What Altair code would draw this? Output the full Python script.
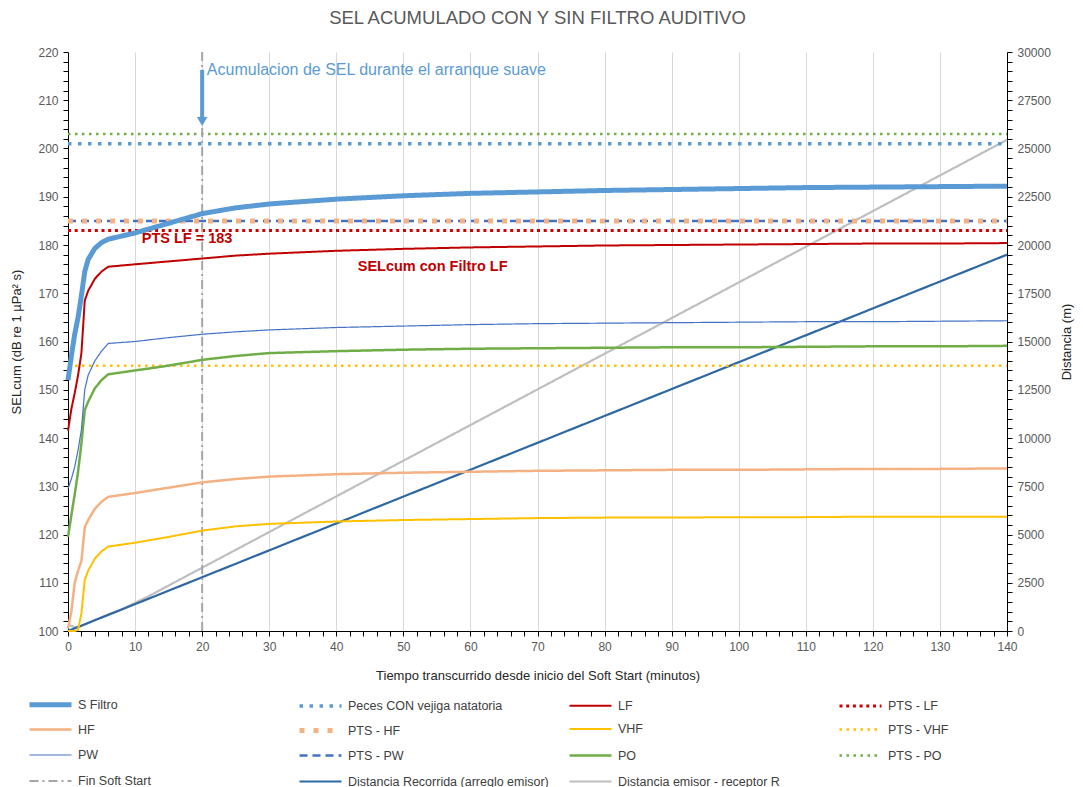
import altair as alt
import pandas as pd

# ---------------- data ----------------
TIME = [0, 0.5, 1, 1.5, 2, 2.5, 3, 4, 5, 6, 10, 15, 20, 25, 30, 40, 50, 60,
        70, 80, 90, 100, 110, 120, 130, 140]
S_FILTRO = [152, 157, 161.5, 165, 169.5, 174.5, 177, 179.3, 180.5, 181.2, 182.5,
            184.5, 186.5, 187.7, 188.5, 189.5, 190.2, 190.7, 191.0, 191.3, 191.5,
            191.7, 191.9, 192.0, 192.1, 192.2]
LF = [141.5, 146, 149.3, 153, 157.6, 168.5, 170.5, 173, 174.5, 175.5, 176, 176.6,
      177.2, 177.8, 178.2, 178.8, 179.2, 179.5, 179.7, 179.9, 180.0, 180.1, 180.2,
      180.3, 180.3, 180.4]
HF = [100.5, 104, 110, 112.5, 114.5, 121.5, 123, 125.3, 126.8, 127.8, 128.6, 129.7,
      130.8, 131.5, 132, 132.5, 132.8, 133, 133.2, 133.3, 133.4, 133.4, 133.5, 133.6,
      133.6, 133.7]
VHF = [100, 100, 100, 100.2, 103.7, 110.6, 112.5, 115, 116.5, 117.5, 118.3, 119.5,
       120.8, 121.7, 122.2, 122.7, 123, 123.2, 123.4, 123.5, 123.5, 123.6, 123.6,
       123.7, 123.7, 123.7]
PW = [129.5, 131.5, 134, 137.5, 141.7, 150, 153, 156, 158, 159.6, 160, 160.8, 161.5,
      162, 162.4, 162.9, 163.2, 163.5, 163.7, 163.8, 163.9, 164, 164.1, 164.1, 164.2,
      164.3]
PO = [119.5, 124, 128.3, 133, 138.9, 145.8, 147.5, 150.3, 152, 153.2, 154, 155, 156.2,
      157, 157.6, 158, 158.3, 158.5, 158.6, 158.7, 158.8, 158.8, 158.9, 159, 159, 159.1]

PECES_CON_VEJIGA = 201
PTS_LF = 183
PTS_HF = 185
PTS_VHF = 155
PTS_PW = 185
PTS_PO = 203
FIN_SOFT_START = 20

DIST_T = [0, 140]
DIST_RECORRIDA = [0, 19500]
DIST_R_T = [0, 1, 2, 4, 6, 8, 12, 20, 140]
DIST_R = [330, 200, 250, 560, 850, 1120, 1800, 3280, 25450]

NAMES = ["S Filtro", "Peces CON vejiga natatoria", "LF", "PTS - LF", "HF", "PTS - HF",
         "VHF", "PTS - VHF", "PW", "PTS - PW", "PO", "PTS - PO", "Fin Soft Start",
         "Distancia Recorrida (arreglo emisor)", "Distancia emisor - receptor R"]
COLORS = ["#5B9BD5", "#5B9BD5", "#C00000", "#D00000", "#F4B183", "#F4B183",
          "#FFC000", "#FFC000", "#4472C4", "#4472C4", "#70AD47", "#70AD47",
          "#A6A6A6", "#2E68A3", "#BFBFBF"]
DASHES = [[1, 0], [3.5, 6.5], [1, 0], [3, 3.7], [1, 0], [5, 9], [1, 0], [2.5, 4.5],
          [1, 0], [8, 5], [1, 0], [2.5, 4.5], [9, 4, 2, 4], [1, 0], [1, 0]]
WIDTHS = [5, 3.5, 2, 3, 2.5, 5, 2, 2.5, 1.2, 2.5, 2.5, 2.5, 2, 2.2, 2.2]

ANN_BLUE = "Acumulacion de SEL durante el arranque suave"
ANN_PTS = "PTS LF = 183"
ANN_LF = "SELcum con Filtro LF"

# ---------------- tables ----------------
rows = []
def add(name, ts, vs):
    k = NAMES.index(name)
    for i, (t, v) in enumerate(zip(ts, vs)):
        rows.append({"t": t, "v": v, "k": k, "serie": name, "o": i})

add("Peces CON vejiga natatoria", [0, 140], [PECES_CON_VEJIGA] * 2)
add("PTS - PO", [0, 140], [PTS_PO] * 2)
add("PTS - LF", [0, 140], [PTS_LF] * 2)
add("PTS - PW", [0, 140], [PTS_PW] * 2)
add("PTS - HF", [0, 140], [PTS_HF] * 2)
add("PTS - VHF", [0, 140], [PTS_VHF] * 2)
add("Fin Soft Start", [FIN_SOFT_START] * 2, [100, 220])
add("VHF", TIME, VHF)
add("HF", TIME, HF)
add("PO", TIME, PO)
add("PW", TIME, PW)
add("LF", TIME, LF)
add("S Filtro", TIME, S_FILTRO)
sel_df = pd.DataFrame(rows)

rows = []
add("Distancia emisor - receptor R", DIST_R_T, DIST_R)
add("Distancia Recorrida (arreglo emisor)", DIST_T, DIST_RECORRIDA)
dist_df = pd.DataFrame(rows)

THR = [i + 0.5 for i in range(len(NAMES) - 1)]
names_js = "[" + ",".join("'" + n + "'" for n in NAMES) + "]"
legend = alt.Legend(
    title=None, orient="none", legendX=-27, legendY=643, columns=4,
    direction="horizontal", columnPadding=10, rowPadding=5, gridAlign="all",
    symbolType="M-3,0H3", symbolSize=196, labelOffset=18, labelFontSize=12.5,
    labelColor="#404040", labelLimit=400, padding=0,
    labelExpr=names_js + "[isFinite(datum.value) ? round(datum.value + 0.5) : 0]",
)

def enc_style():
    return dict(
        color=alt.Color("k:Q", scale=alt.Scale(type="threshold", domain=THR, range=COLORS), legend=legend),
        strokeDash=alt.StrokeDash("k:Q", scale=alt.Scale(type="threshold", domain=THR, range=DASHES), legend=legend),
        strokeWidth=alt.StrokeWidth("k:Q", scale=alt.Scale(type="threshold", domain=THR, range=WIDTHS), legend=legend),
        detail="serie:N",
        order="o:Q",
    )

cond10 = {"condition": {"test": "datum.value % 10 === 0", "value": 1}, "value": 0}

x_enc = alt.X("t:Q", scale=alt.Scale(domain=[0, 140], nice=False),
              axis=alt.Axis(values=list(range(0, 141, 2)), tickCount=500, format="d",
                            labelExpr="datum.value % 10 === 0 ? datum.label : ''",
                            title="Tiempo transcurrido desde inicio del Soft Start (minutos)",
                            gridOpacity=cond10, labelOverlap=False, labelFlush=False,
                            titlePadding=17))

y_sel = alt.Y("v:Q", scale=alt.Scale(domain=[100, 220], nice=False),
              axis=alt.Axis(values=list(range(100, 221, 2)), tickCount=500, format="d",
                            labelExpr="datum.value % 10 === 0 ? datum.label : ''",
                            title="SELcum (dB re 1 µPa² s)",
                            gridOpacity=cond10, labelOverlap=False, labelFlush=False,
                            titlePadding=14))

sel_lines = alt.Chart(sel_df).mark_line(strokeCap="butt").encode(
    x=x_enc, y=y_sel, **enc_style()
)

arrow_df = pd.DataFrame({"t": [FIN_SOFT_START], "y1": [216.3], "y2": [206.5], "yh": [205.6]})
arrow_shaft = alt.Chart(arrow_df).mark_rule(color="#5B9BD5", strokeWidth=4).encode(
    x="t:Q", y="y1:Q", y2="y2:Q")
arrow_head = alt.Chart(arrow_df).mark_point(shape="triangle-down", filled=True, size=110,
                                            color="#5B9BD5", opacity=1).encode(
    x="t:Q", y="yh:Q")

txt_blue = alt.Chart(pd.DataFrame({"t": [20.7], "v": [216.3], "s": [ANN_BLUE]})).mark_text(
    align="left", baseline="middle", fontSize=16, color="#5B9BD5").encode(
    x="t:Q", y="v:Q", text="s:N")
txt_pts = alt.Chart(pd.DataFrame({"t": [11.0], "v": [181.2], "s": [ANN_PTS]})).mark_text(
    align="left", baseline="middle", fontSize=14.5, fontWeight="bold", color="#C00000").encode(
    x="t:Q", y="v:Q", text="s:N")
txt_lf = alt.Chart(pd.DataFrame({"t": [43.2], "v": [175.4], "s": [ANN_LF]})).mark_text(
    align="left", baseline="middle", fontSize=14.5, fontWeight="bold", color="#C00000").encode(
    x="t:Q", y="v:Q", text="s:N")

sel_layer = alt.layer(sel_lines, arrow_shaft, arrow_head, txt_blue, txt_pts, txt_lf)

y_dist = alt.Y("v:Q", scale=alt.Scale(domain=[0, 30000], nice=False),
               axis=alt.Axis(orient="right", values=list(range(0, 30001, 500)), tickCount=500,
                             labelExpr="datum.value % 2500 === 0 ? datum.label : ''",
                             format="d", title="Distancia (m)", titleAngle=270,
                             titleBaseline="top", grid=False, labelOverlap=False,
                             labelFlush=False, titlePadding=10))
dist_lines = alt.Chart(dist_df).mark_line(strokeCap="butt").encode(
    x=alt.X("t:Q"), y=y_dist, **enc_style()
)

chart = alt.layer(dist_lines, sel_layer).resolve_scale(y="independent").properties(
    width=939, height=579,
    title=alt.TitleParams("SEL ACUMULADO CON Y SIN FILTRO AUDITIVO", anchor="middle",
                          fontSize=18.5, fontWeight="normal", color="#595959", offset=19),
    autosize=alt.AutoSizeParams(type="none"),
    padding={"left": 60, "top": 44, "right": 68, "bottom": 156},
).configure(font="Liberation Sans").configure_view(stroke=None).configure_axis(
    domainColor="#000000", tickColor="#000000", tickSize=5, labelColor="#595959",
    labelFontSize=12, labelPadding=5, titleColor="#262626", titleFontSize=13,
    titleFontWeight="normal", gridColor="#D9D9D9",
)

chart.save("out.html", embed_options={"renderer": "svg", "actions": False})
